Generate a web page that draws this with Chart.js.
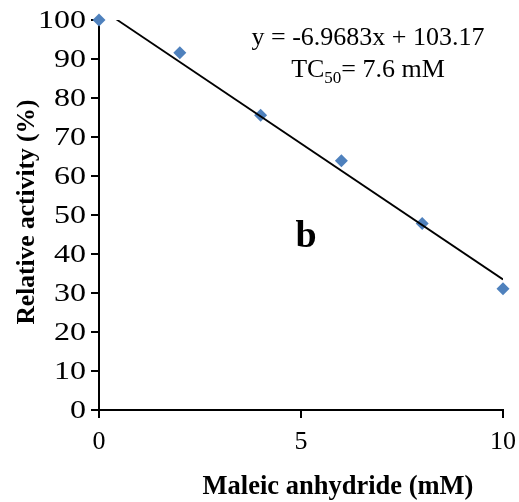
<!DOCTYPE html>
<html>
<head>
<meta charset="utf-8">
<script src="https://cdn.jsdelivr.net/npm/chart.js@4/dist/chart.umd.min.js"></script>
<style>
  html, body { margin: 0; padding: 0; background: #fff; }
  #wrap { width: 519px; height: 502px; position: relative; }
</style>
</head>
<body>
<div id="wrap"><canvas id="chart"></canvas></div>
<script>
// Maleic anhydride concentration (mM) vs relative activity (%)
const concentration = [0, 2, 4, 6, 8, 10];
const activity = [100, 91.6, 75.6, 63.9, 47.8, 31.1];

// linear fit as printed on the chart
const slope = -6.9683;
const intercept = 103.17;
const fitRange = [0, 10];

const xMax = 10;
const xStep = 5;
const yMax = 100;
const yStep = 10;

const serif = '"Liberation Serif", "Times New Roman", serif';

// y tick labels are drawn here, slightly widened like the original figure
const yLabelsPlugin = {
  id: 'yLabels',
  afterDraw(chart) {
    const ctx = chart.ctx;
    const scale = chart.scales.y;
    const stretch = 1.28;
    ctx.save();
    ctx.fillStyle = '#000';
    ctx.font = '25px ' + serif;
    ctx.textAlign = 'right';
    ctx.textBaseline = 'middle';
    scale.ticks.forEach(t => {
      const y = scale.getPixelForValue(t.value);
      ctx.save();
      ctx.translate(scale.right - 13, y + 1);
      ctx.scale(stretch, 1);
      ctx.fillText(String(t.value), 0, 0);
      ctx.restore();
    });
    ctx.restore();
  }
};

// free text: equation, TC50, panel letter and axis titles
const labelsPlugin = {
  id: 'labels',
  afterDraw(chart) {
    const ctx = chart.ctx;
    ctx.save();
    ctx.fillStyle = '#000';
    ctx.textBaseline = 'alphabetic';

    ctx.font = '26px ' + serif;
    ctx.textAlign = 'center';
    ctx.fillText('y = ' + slope + 'x + ' + intercept, 368, 45);

    // TC50 with subscript
    const main1 = 'TC', sub = '50', main2 = '= 7.6 mM';
    ctx.font = '26px ' + serif;
    const w1 = ctx.measureText(main1).width;
    const w3 = ctx.measureText(main2).width;
    ctx.font = '17px ' + serif;
    const w2 = ctx.measureText(sub).width;
    let x = 368 - (w1 + w2 + w3) / 2;
    ctx.textAlign = 'left';
    ctx.font = '26px ' + serif;
    ctx.fillText(main1, x, 77);
    x += w1;
    ctx.font = '17px ' + serif;
    ctx.fillText(sub, x, 83);
    x += w2;
    ctx.font = '26px ' + serif;
    ctx.fillText(main2, x, 77);

    ctx.textAlign = 'center';
    ctx.font = 'bold 38px ' + serif;
    ctx.fillText('b', 306, 247);

    ctx.font = 'bold 26.5px ' + serif;
    ctx.fillText('Maleic anhydride (mM)', 338, 494);

    ctx.font = 'bold 25.5px ' + serif;
    ctx.translate(27, 212);
    ctx.rotate(-Math.PI / 2);
    ctx.textBaseline = 'middle';
    ctx.fillText('Relative activity (%)', 0, 0);
    ctx.restore();
  }
};

const axisStyle = {
  grid: { display: true, drawOnChartArea: false, drawTicks: true, tickLength: 8, color: '#000', lineWidth: 2 },
  border: { display: true, color: '#000', width: 2 }
};

new Chart(document.getElementById('chart'), {
  type: 'scatter',
  data: {
    datasets: [
      {
        type: 'line',
        data: fitRange.map(v => ({ x: v, y: slope * v + intercept })),
        borderColor: '#000',
        borderWidth: 1.8,
        pointRadius: 0,
        fill: false
      },
      {
        data: concentration.map((c, i) => ({ x: c, y: activity[i] })),
        pointStyle: 'rectRot',
        pointRadius: 6.5,
        backgroundColor: '#4F81BD',
        borderColor: '#4F81BD',
        borderWidth: 0,
        clip: false
      }
    ]
  },
  options: {
    responsive: true,
    maintainAspectRatio: false,
    animation: false,
    layout: { autoPadding: false, padding: { top: 20, right: 16, left: 0, bottom: 0 } },
    plugins: { legend: { display: false }, tooltip: { enabled: false } },
    scales: {
      x: {
        type: 'linear',
        min: 0,
        max: xMax,
        afterFit(scale) { scale.height = 92; },
        // small padding keeps the right edge free; taller line box pushes labels down
        ticks: { stepSize: xStep, color: '#000', padding: 3, font: { family: serif, size: 26, lineHeight: 1.66 } },
        ...axisStyle
      },
      y: {
        min: 0,
        max: yMax,
        afterFit(scale) { scale.width = 99; },
        ticks: { stepSize: yStep, display: false },
        ...axisStyle
      }
    }
  },
  plugins: [yLabelsPlugin, labelsPlugin]
});
</script>
</body>
</html>
